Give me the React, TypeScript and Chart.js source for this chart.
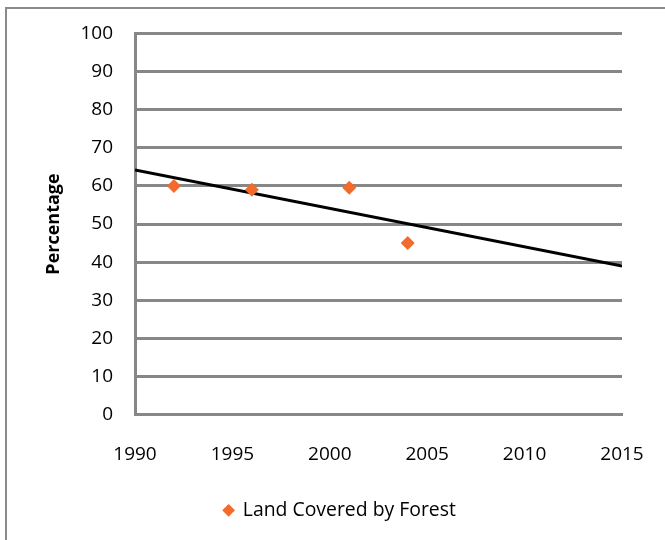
import React, { useEffect, useRef } from 'react';
import { Chart, registerables } from 'chart.js';
Chart.register(...registerables);

const years = [1992, 1996, 2001, 2004];
const forestPct = [60, 59, 59.5, 45];
const trendYears = [1990, 2015];
const trendPct = [64.2, 39.0];
const seriesLabel = 'Land Covered by Forest';
const yTitle = 'Percentage';

const FONT = "'Open Sans', sans-serif";
const GRID = '#878787';

export default function App() {
  const ref = useRef<HTMLCanvasElement>(null);
  useEffect(() => {
    if (!ref.current) return;
    const chart = new Chart(ref.current, {
      type: 'scatter',
      data: {
        datasets: [
          {
            label: seriesLabel,
            data: years.map((x, i) => ({ x, y: forestPct[i] })),
            backgroundColor: '#F36B2C',
            borderColor: '#F36B2C',
            pointStyle: 'rectRot',
            pointRadius: 7,
            pointBorderWidth: 0,
          },
          {
            label: 'trend',
            type: 'line',
            data: trendYears.map((x, i) => ({ x, y: trendPct[i] })),
            borderColor: '#000000',
            borderWidth: 3,
            pointRadius: 0,
            fill: false,
          } as any,
        ],
      },
      options: {
        animation: false,
        responsive: false,
        layout: { padding: { top: 33, left: 15, right: 0, bottom: 10 } },
        plugins: {
          tooltip: { enabled: false },
          legend: {
            position: 'bottom',
            labels: {
              usePointStyle: true,
              boxWidth: 9,
              boxHeight: 9,
              color: '#000',
              font: { family: FONT, size: 19.4 },
              filter: (item) => item.text !== 'trend',
            },
          },
        },
        scales: {
          x: {
            type: 'linear',
            min: 1990,
            max: 2015,
            ticks: { stepSize: 5, color: '#000', font: { family: FONT, size: 19 }, padding: 0, callback: (v) => String(v) },
            grid: { display: false, drawTicks: true, tickLength: 29 },
            border: { display: true, color: GRID, width: 3 },
            afterFit: (s: any) => { s.height = 76; },
          },
          y: {
            min: 0,
            max: 100,
            ticks: { stepSize: 10, color: '#000', font: { family: FONT, size: 19 }, padding: 22 },
            grid: { color: GRID, lineWidth: 3, drawTicks: false },
            border: { display: true, color: GRID, width: 3 },
            title: { display: true, text: yTitle, color: '#000', font: { family: FONT, size: 18, weight: 'bold' }, padding: { top: 28, bottom: 0 } },
            afterFit: (s: any) => { s.width = 120; },
          },
          y2: {
            position: 'right',
            display: true,
            grid: { display: false, drawTicks: false },
            ticks: { display: false },
            border: { display: false },
            afterFit: (s: any) => { s.width = 43; },
          },
        },
      },
    });
    return () => chart.destroy();
  }, []);
  return (
    <div style={{ position: 'fixed', left: 0, top: 0, width: 665, height: 540, background: '#fff', overflow: 'hidden' }}>
      <div style={{ position: 'absolute', left: 5, top: 7, width: 720, height: 600, borderLeft: '2px solid #8a8a8a', borderTop: '2px solid #8a8a8a' }} />
      <canvas ref={ref} width={665} height={540} style={{ position: 'absolute', left: 0, top: 0 }} />
    </div>
  );
}
